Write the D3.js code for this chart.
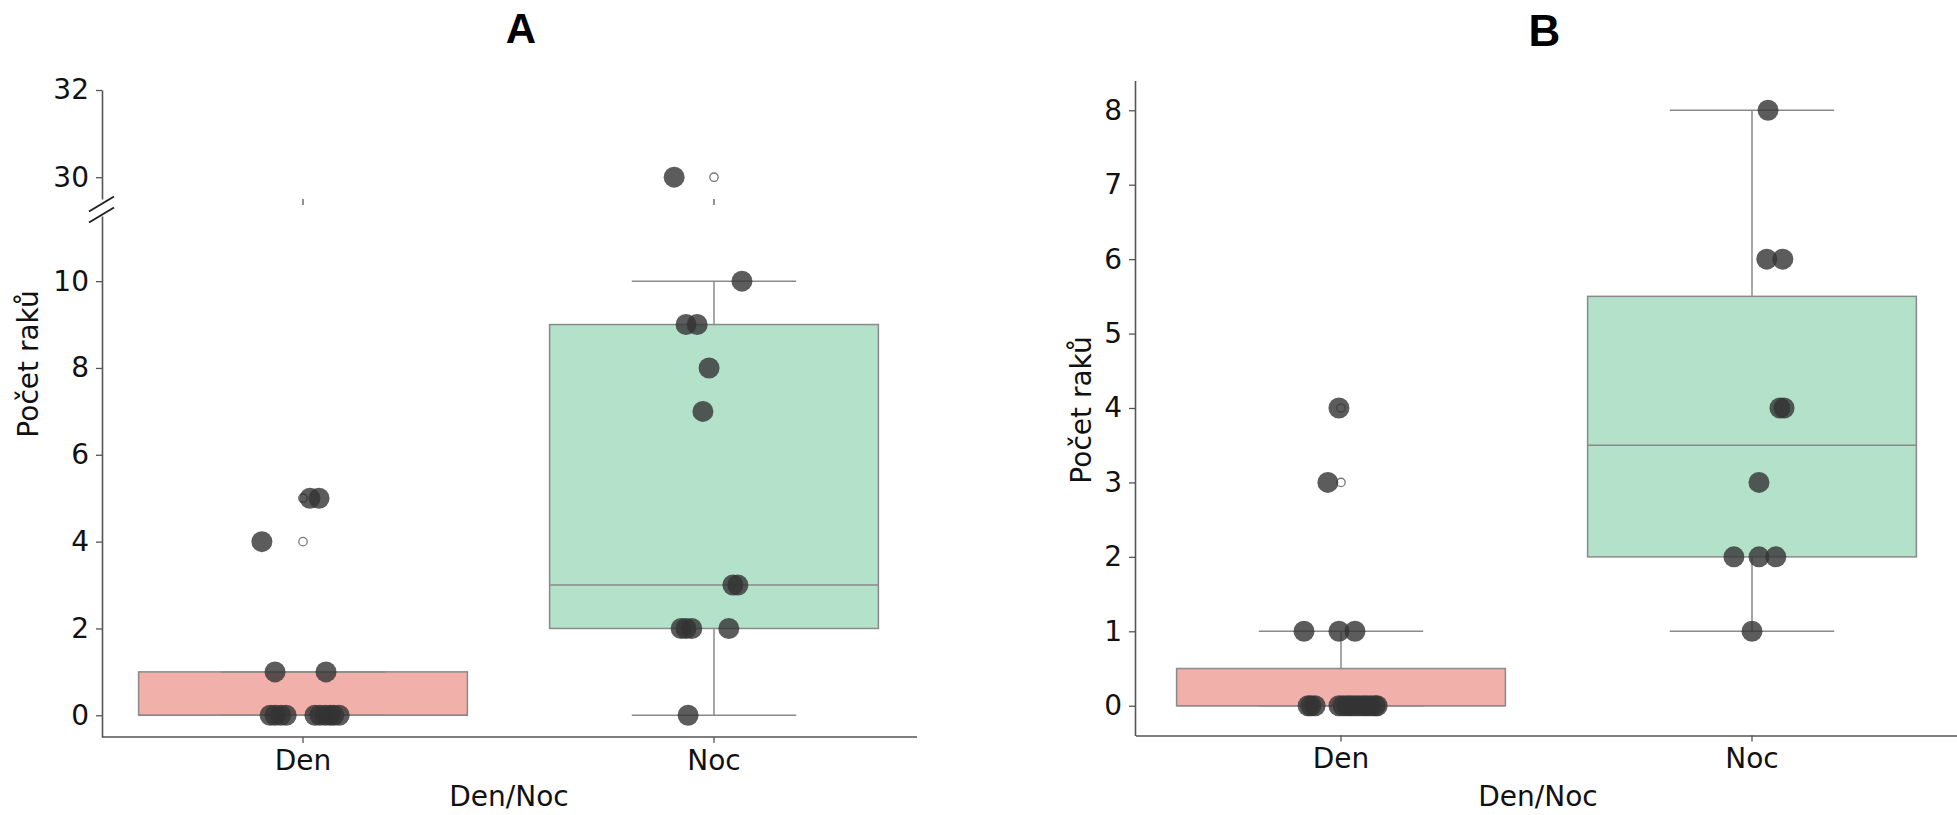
<!DOCTYPE html>
<html>
<head>
<meta charset="utf-8">
<script src="https://cdn.jsdelivr.net/npm/d3@7"></script>
<style>
  body { margin: 0; background: #fff; }
  text { font-family: "DejaVu Sans", sans-serif; fill: #111; }
  .title { font-family: "Liberation Sans", Arial, sans-serif; font-weight: bold; fill: #000; }
</style>
</head>
<body>
<svg width="1957" height="815"></svg>
<script>
// categories and tick labels
const cats = ["Den", "Noc"];
const ticksALow = [0, 2, 4, 6, 8, 10];
const ticksAHigh = [30, 32];
const ticksB = [0, 1, 2, 3, 4, 5, 6, 7, 8];

// panel A values (Počet raků) and stripplot jitter (fraction of category width)
const denA    = [5, 5, 4, 1, 1, 0, 0, 0, 0, 0, 0, 0, 0, 0, 0];
const denAJit = [0.017, 0.039, -0.10, -0.068, 0.056, -0.080, -0.068, -0.054, -0.041, 0.029, 0.041, 0.054, 0.066, 0.075, 0.088];
const nocA    = [30, 10, 9, 9, 8, 7, 3, 3, 2, 2, 2, 2, 0];
const nocAJit = [-0.097, 0.068, -0.068, -0.041, -0.012, -0.027, 0.046, 0.058, -0.080, -0.068, -0.054, 0.036, -0.063];

// panel B
const denB    = [4, 3, 1, 1, 1, 0, 0, 0, 0, 0, 0, 0, 0, 0, 0, 0, 0, 0, 0];
const denBJit = [-0.005, -0.032, -0.090, -0.005, 0.034, -0.080, -0.073, -0.063, -0.005, 0.005, 0.015, 0.024, 0.034, 0.044, 0.054, 0.063, 0.073, 0.083, 0.088];
const nocB    = [8, 6, 6, 4, 4, 3, 2, 2, 2, 1];
const nocBJit = [0.039, 0.036, 0.075, 0.068, 0.078, 0.017, -0.044, 0.017, 0.058, 0];

const boxColors = ["#f2b0aa", "#b3e1ca"];
const lineCol = "#8a8a8a";
const spineCol = "#555";

let svg = d3.select("svg");

function stats(vals) {
    let s = vals.slice().sort(d3.ascending);
    let q1 = d3.quantile(s, 0.25), med = d3.quantile(s, 0.5), q3 = d3.quantile(s, 0.75);
    let iqr = q3 - q1;
    let inside = s.filter(v => v >= q1 - 1.5 * iqr && v <= q3 + 1.5 * iqr);
    return {
        q1: q1, med: med, q3: q3,
        lo: d3.min(inside), hi: d3.max(inside),
        fliers: s.filter(v => v < q1 - 1.5 * iqr || v > q3 + 1.5 * iqr)
    };
}

// yOf picks the right scale for a value (panel A has a broken axis)
function drawGroups(g, x, yOf, yBox, groups) {
    let bw = x.bandwidth();
    groups.forEach(function(grp, i) {
        let st = stats(grp.vals);
        let cx = x(grp.cat) + bw / 2;
        let w = bw * 0.8;
        g.append("rect")
            .attr("x", cx - w / 2)
            .attr("y", yBox(st.q3))
            .attr("width", w)
            .attr("height", yBox(st.q1) - yBox(st.q3))
            .style("fill", boxColors[i])
            .style("stroke", lineCol)
            .style("stroke-width", 1.5);
        g.append("line")
            .attr("x1", cx - w / 2).attr("x2", cx + w / 2)
            .attr("y1", yBox(st.med)).attr("y2", yBox(st.med))
            .style("stroke", lineCol).style("stroke-width", 1.5);
        // whiskers + caps
        [[st.q3, st.hi], [st.q1, st.lo]].forEach(function(p) {
            g.append("line")
                .attr("x1", cx).attr("x2", cx)
                .attr("y1", yBox(p[0])).attr("y2", yBox(p[1]))
                .style("stroke", lineCol).style("stroke-width", 1.5);
            g.append("line")
                .attr("x1", cx - w / 4).attr("x2", cx + w / 4)
                .attr("y1", yBox(p[1])).attr("y2", yBox(p[1]))
                .style("stroke", lineCol).style("stroke-width", 1.5);
        });
        g.selectAll(null)
            .data(st.fliers)
            .enter().append("circle")
            .attr("cx", cx)
            .attr("cy", d => yOf(d))
            .attr("r", 4.2)
            .style("fill", "none")
            .style("stroke", "#777")
            .style("stroke-width", 1.3);
    });
    groups.forEach(function(grp) {
        let cx = x(grp.cat) + bw / 2;
        g.selectAll(null)
            .data(grp.vals.map((v, k) => ({v: v, j: grp.jit[k]})))
            .enter().append("circle")
            .attr("cx", d => cx + d.j * bw)
            .attr("cy", d => yOf(d.v))
            .attr("r", 10.5)
            .style("fill", "#333")
            .style("opacity", 0.8);
    });
}

function leftAxis(y, xPos, ticks) {
    let ax = svg.append("g")
        .attr("transform", "translate(" + xPos + ",0)")
        .call(d3.axisLeft(y).tickValues(ticks).tickFormat(d3.format("d"))
            .tickSize(6).tickSizeOuter(0).tickPadding(7));
    ax.select(".domain").style("stroke", spineCol).style("stroke-width", 1.6);
    ax.selectAll(".tick line").style("stroke", spineCol).style("stroke-width", 1.3);
    ax.selectAll(".tick text").style("font-size", "28px").style("fill", "#111");
    return ax;
}

function bottomAxis(x, yPos, showDomain) {
    let ax = svg.append("g")
        .attr("transform", "translate(0," + yPos + ")")
        .call(d3.axisBottom(x).tickSize(6).tickPadding(7).tickSizeOuter(0));
    ax.select(".domain").style("stroke", spineCol).style("stroke-width", 1.6)
        .style("display", showDomain ? null : "none");
    ax.selectAll(".tick line").style("stroke", spineCol).style("stroke-width", 1.3);
    ax.selectAll(".tick text").style("font-size", "28px").style("fill", "#111")
        .style("display", showDomain ? null : "none");
    return ax;
}

// ---------------- panel A ----------------
let xA = d3.scaleBand().domain(cats).range([97.5, 919.5]);
let yALow = d3.scaleLinear().domain([-0.5, 11.5]).range([737, 216]);
let yAHigh = d3.scaleLinear().domain([29.5, 32]).range([199, 90]);
let yAOf = v => v >= 29.5 ? yAHigh(v) : yALow(v);

let gA = svg.append("g");
drawGroups(gA, xA, yAOf, yALow, [
    {cat: "Den", vals: denA, jit: denAJit},
    {cat: "Noc", vals: nocA, jit: nocAJit}
]);

leftAxis(yALow, 102, ticksALow);
leftAxis(yAHigh, 102, ticksAHigh);
bottomAxis(xA, 737, true).select(".domain").attr("d", "M102,0H917");
bottomAxis(xA, 199, false);

// break marks
[204, 215].forEach(function(yy) {
    svg.append("line")
        .attr("x1", 89).attr("y1", yy + 7.5)
        .attr("x2", 114).attr("y2", yy - 7.5)
        .style("stroke", "#222").style("stroke-width", 2);
});

svg.append("text").attr("class", "title")
    .attr("x", 521).attr("y", 43)
    .attr("text-anchor", "middle")
    .style("font-size", "42px").text("A");
svg.append("text")
    .attr("transform", "translate(38,364) rotate(-90)")
    .attr("text-anchor", "middle")
    .style("font-size", "28px").text("Počet raků");
svg.append("text")
    .attr("x", 509).attr("y", 806)
    .attr("text-anchor", "middle")
    .style("font-size", "28px").text("Den/Noc");

// ---------------- panel B ----------------
let xB = d3.scaleBand().domain(cats).range([1135.5, 1957.5]);
let yB = d3.scaleLinear().domain([-0.4, 8.4]).range([735.5, 80.5]);

let gB = svg.append("g");
drawGroups(gB, xB, yB, yB, [
    {cat: "Den", vals: denB, jit: denBJit},
    {cat: "Noc", vals: nocB, jit: nocBJit}
]);
leftAxis(yB, 1135, ticksB);
bottomAxis(xB, 735.5, true);

svg.append("text").attr("class", "title")
    .attr("x", 1544.5).attr("y", 46)
    .attr("text-anchor", "middle")
    .style("font-size", "44px").text("B");
svg.append("text")
    .attr("transform", "translate(1091,410) rotate(-90)")
    .attr("text-anchor", "middle")
    .style("font-size", "28px").text("Počet raků");
svg.append("text")
    .attr("x", 1538).attr("y", 806)
    .attr("text-anchor", "middle")
    .style("font-size", "28px").text("Den/Noc");
</script>
</body>
</html>
